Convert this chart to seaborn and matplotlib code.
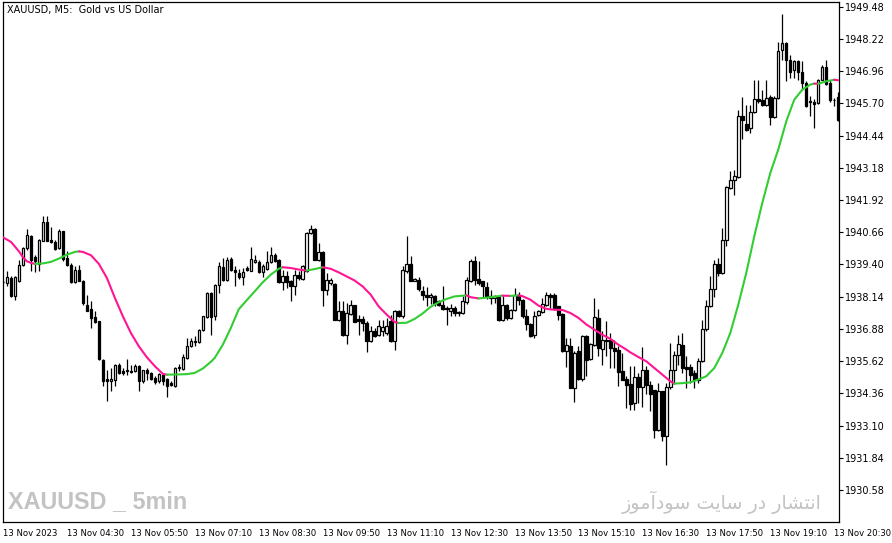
import numpy as np
import pandas as pd
import matplotlib
matplotlib.use("Agg")
import matplotlib.pyplot as plt
import seaborn as sns

# ---------------- data (XAUUSD M5, 13 Nov 2023) ----------------
open_ = [
    1938.73, 1938.67, 1938.87, 1938.15, 1938.74, 1939.37, 1940.04, 1940.52, 1939.68, 1939.42,
    1940.33, 1941.06, 1940.37, 1940.28, 1940.04, 1940.69, 1939.65, 1939.37, 1938.71, 1939.20,
    1938.77, 1937.83, 1937.67, 1937.36, 1937.18, 1935.68, 1934.91, 1934.83, 1934.87, 1935.46,
    1935.22, 1935.22, 1935.25, 1935.22, 1935.42, 1934.83, 1935.26, 1935.16, 1934.96, 1934.83,
    1935.09, 1934.94, 1934.77, 1934.63, 1935.35, 1935.33, 1935.74, 1936.20, 1936.39, 1936.37,
    1936.85, 1937.33, 1938.28, 1937.37, 1938.61, 1939.29, 1938.80, 1939.63, 1939.20, 1939.07,
    1938.90, 1939.26, 1939.16, 1939.50, 1939.50, 1939.10, 1939.23, 1939.50, 1939.78, 1939.59,
    1938.71, 1938.96, 1938.77, 1938.54, 1938.97, 1938.84, 1939.13, 1940.63, 1940.80, 1939.59,
    1939.89, 1938.41, 1938.67, 1938.65, 1937.24, 1937.59, 1936.66, 1937.46, 1937.80, 1937.27,
    1937.28, 1937.11, 1936.39, 1936.78, 1936.63, 1936.81, 1936.72, 1937.20, 1936.42, 1937.59,
    1937.40, 1939.13, 1939.42, 1938.77, 1938.80, 1938.37, 1938.22, 1938.11, 1938.15, 1937.96,
    1937.83, 1937.70, 1937.57, 1937.70, 1937.55, 1937.50, 1937.92, 1938.77, 1939.55, 1938.83,
    1938.74, 1938.52, 1938.15, 1938.09, 1938.11, 1937.24, 1937.83, 1937.31, 1937.61, 1938.22,
    1938.02, 1937.40, 1937.08, 1936.63, 1937.41, 1937.54, 1937.83, 1938.22, 1938.22, 1937.76,
    1937.48, 1936.00, 1936.23, 1934.57, 1936.00, 1934.92, 1936.59, 1935.70, 1936.26, 1937.31,
    1936.11, 1936.46, 1936.46, 1936.13, 1936.04, 1935.22, 1934.92, 1934.74, 1933.98, 1935.00,
    1934.61, 1935.29, 1934.70, 1934.48, 1932.91, 1934.44, 1932.68, 1934.60, 1935.26, 1935.85,
    1936.26, 1935.39, 1935.39, 1935.16, 1934.87, 1935.61, 1936.88, 1937.79, 1938.44, 1939.43,
    1939.07, 1940.37, 1942.39, 1942.69, 1942.82, 1945.22, 1944.90, 1944.73, 1945.35, 1945.87,
    1945.82, 1945.62, 1945.95, 1945.16, 1945.91, 1947.77, 1948.06, 1947.41, 1946.99, 1947.34,
    1946.92, 1946.49, 1945.78, 1945.74, 1945.71, 1946.62, 1947.12, 1946.49, 1945.84, 1945.95,
]
high = [
    1938.77, 1939.13, 1938.94, 1938.94, 1939.59, 1940.07, 1940.80, 1940.54, 1939.78, 1940.38,
    1941.28, 1941.28, 1940.85, 1940.37, 1940.80, 1940.72, 1939.91, 1939.46, 1939.33, 1939.37,
    1938.79, 1938.22, 1937.98, 1937.59, 1937.20, 1935.70, 1935.29, 1935.35, 1935.51, 1935.53,
    1935.35, 1935.72, 1935.48, 1935.51, 1935.48, 1935.29, 1935.35, 1935.18, 1935.03, 1935.16,
    1935.16, 1934.96, 1934.83, 1935.38, 1935.51, 1935.90, 1936.52, 1936.52, 1936.59, 1936.87,
    1937.40, 1938.32, 1938.32, 1938.63, 1939.50, 1939.65, 1939.68, 1939.68, 1939.33, 1939.23,
    1939.26, 1939.33, 1940.08, 1939.78, 1939.59, 1939.42, 1939.91, 1940.07, 1939.85, 1939.61,
    1939.20, 1939.13, 1938.80, 1939.20, 1939.13, 1939.39, 1940.67, 1940.93, 1940.82, 1940.24,
    1939.91, 1939.07, 1938.87, 1938.67, 1937.96, 1937.96, 1937.89, 1938.02, 1937.83, 1937.43,
    1937.37, 1937.18, 1936.98, 1936.91, 1937.24, 1937.24, 1937.31, 1937.43, 1937.63, 1937.63,
    1939.33, 1940.50, 1939.72, 1938.87, 1938.90, 1938.54, 1938.52, 1938.28, 1938.22, 1938.02,
    1938.57, 1937.76, 1937.87, 1937.76, 1937.57, 1938.18, 1938.91, 1939.61, 1939.72, 1939.55,
    1938.76, 1938.71, 1938.41, 1938.22, 1938.15, 1938.15, 1937.87, 1937.66, 1938.48, 1938.31,
    1938.05, 1937.66, 1937.10, 1937.57, 1937.63, 1938.09, 1938.31, 1938.28, 1938.28, 1937.78,
    1937.50, 1936.52, 1936.52, 1936.00, 1936.20, 1936.65, 1936.65, 1936.32, 1938.09, 1937.66,
    1936.78, 1937.18, 1936.72, 1936.43, 1936.20, 1935.94, 1935.03, 1935.44, 1935.44, 1935.16,
    1936.17, 1935.44, 1934.83, 1934.50, 1934.77, 1934.46, 1934.77, 1936.33, 1936.00, 1936.65,
    1936.72, 1935.81, 1935.52, 1935.29, 1935.74, 1937.24, 1938.02, 1938.94, 1939.59, 1939.65,
    1940.82, 1942.45, 1943.04, 1943.11, 1945.45, 1945.95, 1945.65, 1945.65, 1946.60, 1946.60,
    1946.23, 1946.60, 1946.04, 1946.00, 1948.08, 1949.20, 1948.08, 1947.60, 1947.41, 1947.38,
    1947.34, 1946.56, 1946.00, 1945.87, 1946.65, 1947.21, 1947.41, 1946.62, 1945.91, 1946.13,
]
low = [
    1938.66, 1938.54, 1938.14, 1938.02, 1938.71, 1939.33, 1939.98, 1939.13, 1939.10, 1939.16,
    1940.30, 1940.30, 1940.24, 1939.98, 1940.02, 1939.52, 1939.33, 1938.67, 1938.67, 1938.74,
    1937.83, 1937.57, 1936.92, 1937.11, 1935.68, 1934.63, 1934.05, 1934.44, 1934.63, 1935.13,
    1935.06, 1935.09, 1935.16, 1935.19, 1934.47, 1934.77, 1934.90, 1934.90, 1934.74, 1934.77,
    1934.70, 1934.21, 1934.63, 1934.61, 1935.25, 1935.29, 1935.72, 1936.16, 1936.20, 1936.33,
    1936.81, 1937.31, 1936.66, 1937.24, 1938.28, 1938.77, 1938.77, 1939.16, 1938.54, 1938.84,
    1938.61, 1939.16, 1939.13, 1939.46, 1939.07, 1938.90, 1939.20, 1939.46, 1939.50, 1938.67,
    1938.41, 1938.48, 1937.96, 1938.22, 1938.80, 1938.80, 1939.10, 1940.59, 1939.57, 1939.55,
    1937.76, 1938.22, 1938.61, 1937.21, 1937.20, 1936.59, 1936.29, 1937.43, 1937.13, 1936.63,
    1936.78, 1935.98, 1936.37, 1936.55, 1936.61, 1936.59, 1936.66, 1936.37, 1936.07, 1937.35,
    1937.31, 1939.07, 1938.75, 1938.74, 1938.35, 1938.02, 1937.76, 1937.87, 1937.79, 1937.76,
    1937.63, 1937.05, 1937.40, 1937.40, 1937.37, 1937.48, 1937.87, 1938.71, 1938.61, 1938.61,
    1938.13, 1938.05, 1937.87, 1937.89, 1937.18, 1937.18, 1937.21, 1937.27, 1937.57, 1937.83,
    1937.31, 1936.85, 1936.56, 1936.52, 1937.37, 1937.50, 1937.79, 1937.70, 1937.63, 1937.21,
    1935.98, 1935.39, 1934.55, 1934.01, 1934.89, 1934.83, 1935.03, 1935.68, 1936.23, 1935.83,
    1935.48, 1935.83, 1935.35, 1935.35, 1934.66, 1934.87, 1933.79, 1933.72, 1933.72, 1933.98,
    1933.83, 1934.35, 1933.66, 1932.62, 1932.88, 1932.48, 1931.57, 1934.53, 1934.74, 1935.48,
    1935.16, 1934.57, 1934.77, 1934.57, 1934.77, 1935.57, 1936.78, 1937.74, 1938.13, 1938.94,
    1939.04, 1940.11, 1942.35, 1942.13, 1942.78, 1944.30, 1944.60, 1944.54, 1945.32, 1945.71,
    1945.61, 1945.58, 1944.84, 1945.12, 1945.87, 1947.41, 1946.56, 1946.69, 1946.69, 1946.62,
    1946.23, 1945.55, 1945.22, 1944.73, 1945.69, 1946.60, 1946.43, 1945.74, 1945.58, 1944.99,
]
close = [
    1938.70, 1938.90, 1938.15, 1938.90, 1939.39, 1940.04, 1940.54, 1939.59, 1939.55, 1940.37,
    1941.06, 1940.33, 1940.28, 1940.02, 1940.72, 1939.63, 1939.37, 1938.70, 1939.20, 1938.77,
    1937.88, 1937.59, 1937.31, 1937.15, 1935.72, 1934.86, 1934.83, 1934.94, 1935.46, 1935.16,
    1935.16, 1935.26, 1935.19, 1935.42, 1934.83, 1935.26, 1935.16, 1934.94, 1934.81, 1935.12,
    1934.86, 1934.63, 1934.70, 1935.35, 1935.38, 1935.77, 1936.20, 1936.39, 1936.35, 1936.85,
    1937.37, 1938.28, 1937.33, 1938.61, 1939.33, 1938.80, 1939.59, 1939.20, 1939.10, 1938.90,
    1939.09, 1939.18, 1939.61, 1939.59, 1939.10, 1939.33, 1939.50, 1939.78, 1939.55, 1938.71,
    1938.96, 1938.71, 1938.54, 1939.00, 1938.87, 1939.33, 1940.63, 1940.80, 1939.59, 1939.87,
    1938.41, 1938.80, 1938.80, 1937.24, 1937.59, 1936.66, 1937.50, 1937.80, 1937.15, 1937.18,
    1937.11, 1936.42, 1936.81, 1936.59, 1936.98, 1936.94, 1936.98, 1936.39, 1937.59, 1937.37,
    1939.20, 1939.42, 1938.77, 1938.84, 1938.44, 1938.19, 1938.13, 1938.22, 1937.89, 1937.83,
    1937.66, 1937.66, 1937.70, 1937.50, 1937.50, 1937.96, 1938.80, 1939.52, 1938.80, 1938.67,
    1938.54, 1938.15, 1938.09, 1938.15, 1937.24, 1937.83, 1937.31, 1937.63, 1938.22, 1937.99,
    1937.37, 1937.08, 1936.59, 1937.40, 1937.57, 1937.85, 1938.22, 1938.11, 1937.70, 1937.44,
    1936.00, 1936.26, 1934.57, 1935.94, 1934.92, 1936.61, 1935.68, 1936.30, 1937.34, 1936.13,
    1936.43, 1936.39, 1936.13, 1936.00, 1935.18, 1934.89, 1934.70, 1933.96, 1935.00, 1934.60,
    1935.29, 1934.70, 1934.34, 1932.91, 1934.44, 1932.68, 1934.61, 1935.29, 1935.87, 1936.30,
    1935.35, 1935.31, 1935.09, 1934.87, 1935.61, 1936.88, 1937.79, 1938.44, 1939.43, 1939.07,
    1940.37, 1942.43, 1942.71, 1942.87, 1945.22, 1945.03, 1944.64, 1945.35, 1945.87, 1945.78,
    1945.65, 1945.91, 1945.16, 1945.91, 1947.73, 1948.06, 1947.38, 1946.92, 1947.34, 1946.92,
    1946.49, 1945.58, 1945.74, 1945.69, 1946.62, 1947.12, 1946.47, 1945.82, 1945.82, 1945.06,
]

# smoothed moving average (bar index, value)
ma_idx = [0, 2, 4, 5, 6, 7, 8, 10, 12, 14, 16, 18, 19, 20, 22, 24, 26, 28, 30, 32,
          34, 36, 38, 40, 41, 44, 46, 48, 50, 52, 53, 55, 57, 59, 61, 63, 65, 67, 69, 70,
          72, 74, 76, 78, 80, 82, 84, 86, 88, 90, 92, 94, 96, 98, 99, 101, 103, 105, 107, 109,
          111, 113, 116, 117, 119, 121, 123, 125, 127, 129, 130, 132, 134, 136, 138, 140, 142, 144, 146, 148,
          150, 152, 154, 156, 157, 159, 161, 163, 165, 167, 168, 170, 172, 174, 176, 178, 180, 182, 184, 186,
          188, 190, 192, 194, 196, 198, 200, 202, 203, 204, 206, 208, 209]
ma_val = [1940.46, 1940.28, 1939.91, 1939.68, 1939.52, 1939.46, 1939.42, 1939.44, 1939.50, 1939.63,
          1939.78, 1939.89, 1939.91, 1939.89, 1939.76, 1939.42, 1938.87, 1938.09, 1937.37, 1936.72,
          1936.20, 1935.77, 1935.42, 1935.12, 1935.09, 1935.10, 1935.11, 1935.16, 1935.33, 1935.59,
          1935.75, 1936.26, 1936.91, 1937.65, 1938.00, 1938.35, 1938.70, 1939.00, 1939.23, 1939.29,
          1939.26, 1939.20, 1939.16, 1939.22, 1939.29, 1939.23, 1939.09, 1938.93, 1938.77, 1938.54,
          1938.22, 1937.76, 1937.44, 1937.15, 1937.11, 1937.12, 1937.27, 1937.48, 1937.74, 1937.92,
          1938.05, 1938.15, 1938.19, 1938.12, 1938.07, 1938.10, 1938.14, 1938.18, 1938.17, 1938.19,
          1938.16, 1938.02, 1937.79, 1937.66, 1937.63, 1937.62, 1937.50, 1937.31, 1937.05, 1936.85,
          1936.65, 1936.49, 1936.26, 1936.07, 1935.96, 1935.78, 1935.61, 1935.35, 1935.09, 1934.83,
          1934.74, 1934.76, 1934.79, 1934.90, 1935.03, 1935.35, 1935.94, 1936.72, 1937.83, 1939.07,
          1940.50, 1941.80, 1942.97, 1943.89, 1944.99, 1945.84, 1946.23, 1946.43, 1946.47, 1946.46,
          1946.56, 1946.62, 1946.60]

x_labels = ["13 Nov 2023", "13 Nov 04:30", "13 Nov 05:50", "13 Nov 07:10", "13 Nov 08:30",
            "13 Nov 09:50", "13 Nov 11:10", "13 Nov 12:30", "13 Nov 13:50", "13 Nov 15:10",
            "13 Nov 16:30", "13 Nov 17:50", "13 Nov 19:10", "13 Nov 20:30"]
y_labels = ["1949.48", "1948.22", "1946.96", "1945.70", "1944.44", "1943.18", "1941.92",
            "1940.66", "1939.40", "1938.14", "1936.88", "1935.62", "1934.36", "1933.10",
            "1931.84", "1930.58"]

title = "XAUUSD, M5:  Gold vs US Dollar"
watermark_left = "XAUUSD _ 5min"
# "انتشار در سایت سودآموز" written with Arabic presentation forms in visual order
watermark_right = ("\uFEAF\uFEEE\uFEE3\uFE81\uFEA9\uFEEE\uFEB3 "
                   "\uFE96\uFBFE\uFE8E\uFEB3 "
                   "\uFEAD\uFEA9 "
                   "\uFEAD\uFE8E\uFEB8\uFE98\uFEE7\uFE8D")

PINK = "#FF1493"
GREEN = "#32CD32"

# ---------------- figure ----------------
sns.set_style("white")
plt.rcParams["font.family"] = ["DejaVu Sans"]

W, H = 892, 543
fig = plt.figure(figsize=(W / 100, H / 100), dpi=100)
ax = fig.add_axes([3 / W, 21 / H, 836 / W, 520 / H])

df = pd.DataFrame({"o": open_, "h": high, "l": low, "c": close})
df["i"] = np.arange(len(df))
bull = df["c"] >= df["o"]

# wicks
ax.vlines(df["i"], df["l"], df["h"], color="black", lw=0.9, zorder=2)
# bodies
bottom = np.minimum(df["o"], df["c"])
height = np.maximum(np.abs(df["c"] - df["o"]), 0.015)
ax.bar(df["i"][bull], height[bull], bottom=bottom[bull], width=0.62,
       facecolor="white", edgecolor="black", linewidth=0.9, zorder=3)
ax.bar(df["i"][~bull], height[~bull], bottom=bottom[~bull], width=0.62,
       facecolor="black", edgecolor="black", linewidth=0.9, zorder=3)

# moving average coloured by direction
ma = pd.DataFrame({"i": ma_idx, "v": ma_val})
d = np.diff(np.array(ma_val))
dirs = np.where(d >= 0, 1, -1)
start = 0
for k in range(1, len(dirs) + 1):
    if k == len(dirs) or dirs[k] != dirs[start]:
        seg = ma.iloc[start:k + 1]
        sns.lineplot(data=seg, x="i", y="v", ax=ax, color=PINK if dirs[start] < 0 else GREEN,
                     lw=1.5, sort=False, estimator=None, legend=False, zorder=5)
        start = k

# axes limits / ticks
ax.set_xlim(0, 209.2)
ax.set_ylim(1929.33, 1949.66)
ax.set_xlabel("")
ax.set_ylabel("")

ax.set_xticks([16 * k for k in range(len(x_labels))])
ax.set_xticklabels(x_labels, ha="left", fontsize=6.1)
ax.tick_params(axis="x", direction="out", length=3.6, width=0.8, pad=1.2, colors="black")

ax.yaxis.tick_right()
ax.set_yticks([float(v) for v in y_labels])
ax.set_yticklabels(y_labels, fontsize=7)
ax.tick_params(axis="y", direction="out", length=2.9, width=0.8, pad=1.2, colors="black",
               right=True, left=False)

for s in ax.spines.values():
    s.set_visible(True)
    s.set_color("black")
    s.set_linewidth(0.9)

# texts
fig.text(7 / W, 1 - 10 / H, title, fontsize=7, va="center", ha="left", color="black")
fig.text(8 / W, 1 - 502 / H, watermark_left, fontsize=16.8, fontweight="bold",
         family=["Liberation Sans", "DejaVu Sans"], color="#C3C3C3",
         va="center", ha="left")
fig.text(822 / W, 1 - 502 / H, watermark_right, fontsize=13.8,
         family=["DejaVu Sans"], color="#C3C3C3", va="center", ha="right")

fig.savefig("out.png", dpi=100)
